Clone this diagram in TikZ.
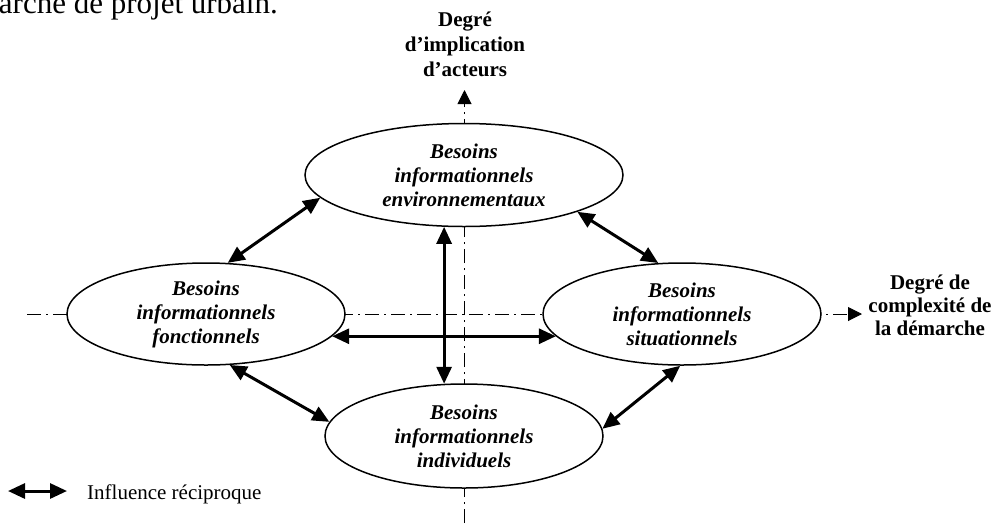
\documentclass[tikz,border=0pt]{standalone}
\usepackage{fontspec}
\setmainfont{Liberation Serif}
\usetikzlibrary{shapes.geometric,arrows.meta,calc}
\tikzset{
  bubble/.style={ellipse, draw, line width=1.5pt, fill=white, inner sep=0pt, align=center,
    font=\fontsize{21}{24}\selectfont\bfseries\itshape},
  dbl/.style={{Triangle[length=17pt,width=15pt]}-{Triangle[length=17pt,width=15pt]}, line width=3pt},
  axisline/.style={line width=1pt, dash pattern=on 14pt off 5pt on 2pt off 5pt, -{Triangle[length=14pt,width=14pt]}},
  axislabel/.style={align=center, inner sep=0pt, font=\fontsize{21}{25}\selectfont\bfseries},
}
\begin{document}
\begin{tikzpicture}[x=1pt,y=-1pt]
\useasboundingbox (0,0) rectangle (993,523);
% cut-off caption line
\node[anchor=base east, inner sep=0pt, font=\fontsize{31}{34}\selectfont] (cap) at (278,13) {arche de projet urbain.};
% axes
\coordinate (hstart) at (27,314);
\coordinate (hend) at (862,314);
\coordinate (vstart) at (464.5,523);
\coordinate (vend) at (464.5,90);
\draw[axisline] (hstart) -- (hend);
\draw[axisline] (vstart) -- (vend);
% axis labels
\node[axislabel] (ylab) at (465,44) {Degré\\d’implication\\d’acteurs};
\node[axislabel, font=\fontsize{21}{23}\selectfont\bfseries] (xlab) at (930,305) {Degré de\\complexité de\\la démarche};
% ellipses
\node[bubble, minimum width=318pt, minimum height=103pt] (env) at (464,175) {Besoins\\informationnels\\environnementaux};
\node[bubble, minimum width=278pt, minimum height=102pt] (fonc) at (206,314) {Besoins\\informationnels\\fonctionnels};
\node[bubble, minimum width=278pt, minimum height=102pt] (sit) at (682,314) {Besoins\\informationnels\\situationnels};
\node[bubble, minimum width=278pt, minimum height=104pt] (ind) at (464,436) {Besoins\\informationnels\\individuels};
% reciprocal influences
\draw[dbl] (fonc.67) -- (env.189);
\draw[dbl] (env.342) -- (sit.115);
\draw[dbl] (fonc.295) -- (ind.174);
\draw[dbl] (ind.3) -- (sit.268);
\draw[dbl] (fonc.350) -- (fonc.350 -| sit.190);
\draw[dbl] (env.249) -- (env.249 |- ind.110);
% legend
\coordinate (lga) at (8,491);
\coordinate (lgb) at (67,491);
\draw[dbl] (lga) -- (lgb);
\node[anchor=west, inner sep=0pt, font=\fontsize{21}{24}\selectfont] (lgtext) at (87,494) {Influence réciproque};
\end{tikzpicture}
\end{document}
